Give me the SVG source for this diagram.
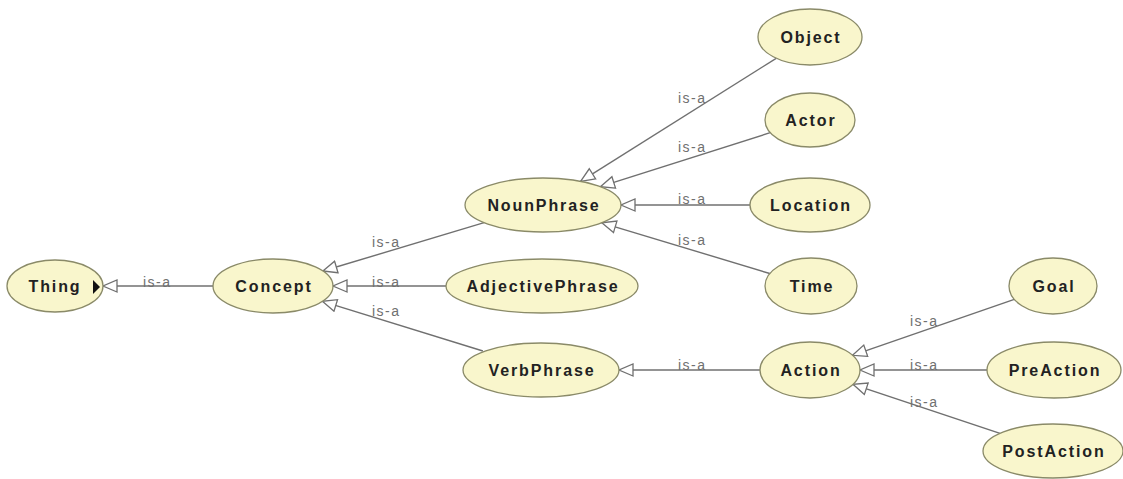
<svg xmlns="http://www.w3.org/2000/svg" width="1123" height="479" viewBox="0 0 1123 479">
<defs>
<style>
.node ellipse{fill:#f9f6cc;stroke:#8a8a68;stroke-width:1.3}
.node text{font-family:"Liberation Sans",Arial,sans-serif;font-weight:bold;font-size:16px;letter-spacing:1.9px;fill:#222;text-anchor:middle}
.edges line{stroke:#707070;stroke-width:1.4;marker-end:url(#tri)}
.edges text{font-family:"Liberation Sans",Arial,sans-serif;font-size:14px;letter-spacing:1.5px;fill:#707070}
</style>
<marker id="tri" markerUnits="userSpaceOnUse" markerWidth="18" markerHeight="16" refX="15" refY="7" orient="auto" viewBox="0 0 18 16">
<path d="M1,1 L15,7 L1,13 Z" fill="#fff" stroke="#707070" stroke-width="1.3"/>
</marker>
</defs>
<rect width="1123" height="479" fill="#fff"/>
<g id="connectors" class="edges">
<line x1="213" y1="286" x2="103" y2="286"/>
<text x="143" y="287">is-a</text>
<line x1="484.1" y1="222.7" x2="322.9" y2="271"/>
<text x="372" y="247">is-a</text>
<line x1="446" y1="286" x2="333" y2="286"/>
<text x="372" y="287">is-a</text>
<line x1="482.9" y1="351" x2="322.4" y2="301.3"/>
<text x="372" y="316">is-a</text>
<line x1="776.2" y1="58.3" x2="580.6" y2="181.3"/>
<text x="678" y="103">is-a</text>
<line x1="770.2" y1="132.7" x2="600.4" y2="186.7"/>
<text x="678" y="152">is-a</text>
<line x1="750" y1="205" x2="621" y2="205"/>
<text x="678" y="204">is-a</text>
<line x1="769.8" y1="273.5" x2="601.8" y2="222.8"/>
<text x="678" y="245">is-a</text>
<line x1="760" y1="370" x2="619" y2="370"/>
<text x="678" y="370">is-a</text>
<line x1="1014.3" y1="299.4" x2="852.5" y2="355.3"/>
<text x="910" y="326">is-a</text>
<line x1="987" y1="370" x2="860" y2="370"/>
<text x="910" y="370">is-a</text>
<line x1="1000" y1="433.3" x2="853" y2="384.3"/>
<text x="910" y="407">is-a</text>
</g>
<g id="Thing" class="node"><ellipse cx="55" cy="286" rx="48" ry="26"/><text x="55" y="292">Thing</text><path d="M93,280 L100,287 L93,294 Z" fill="#111"/></g>
<g id="Concept" class="node"><ellipse cx="273" cy="286" rx="60" ry="27"/><text x="274" y="292">Concept</text></g>
<g id="NounPhrase" class="node"><ellipse cx="543" cy="205" rx="78" ry="27"/><text x="544" y="211">NounPhrase</text></g>
<g id="AdjectivePhrase" class="node"><ellipse cx="542" cy="286" rx="96" ry="27"/><text x="543" y="292">AdjectivePhrase</text></g>
<g id="VerbPhrase" class="node"><ellipse cx="541" cy="370" rx="78" ry="27"/><text x="542" y="376">VerbPhrase</text></g>
<g id="Object" class="node"><ellipse cx="810" cy="37" rx="52" ry="28"/><text x="811" y="43">Object</text></g>
<g id="Actor" class="node"><ellipse cx="810" cy="120" rx="45" ry="27"/><text x="811" y="126">Actor</text></g>
<g id="Location" class="node"><ellipse cx="810" cy="205" rx="60" ry="27"/><text x="811" y="211">Location</text></g>
<g id="Time" class="node"><ellipse cx="811" cy="286" rx="46" ry="28"/><text x="812" y="292">Time</text></g>
<g id="Action" class="node"><ellipse cx="810" cy="370" rx="50" ry="28"/><text x="811" y="376">Action</text></g>
<g id="Goal" class="node"><ellipse cx="1053" cy="286" rx="44" ry="28"/><text x="1054" y="292">Goal</text></g>
<g id="PreAction" class="node"><ellipse cx="1054" cy="370" rx="67" ry="28"/><text x="1055" y="376">PreAction</text></g>
<g id="PostAction" class="node"><ellipse cx="1053" cy="451" rx="70" ry="27"/><text x="1054" y="457">PostAction</text></g>
</svg>
